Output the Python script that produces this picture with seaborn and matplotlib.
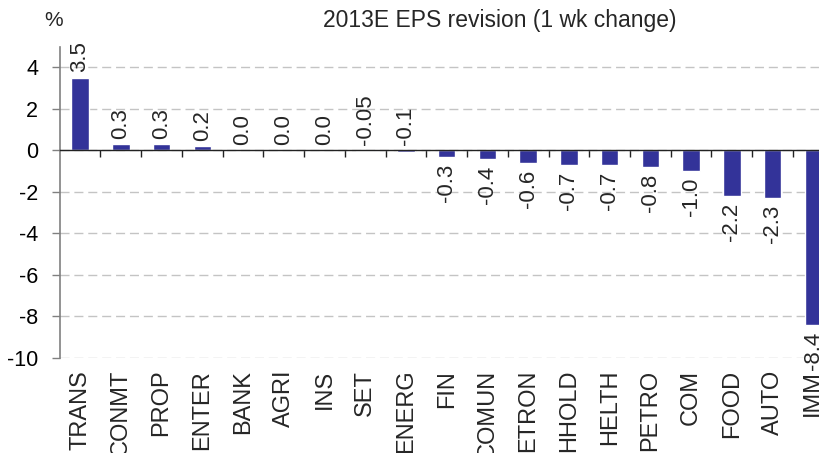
import matplotlib
matplotlib.use("Agg")
import matplotlib.pyplot as plt
import seaborn as sns
import pandas as pd
import numpy as np

categories = ["TRANS", "CONMT", "PROP", "ENTER", "BANK", "AGRI", "INS", "SET", "ENERG",
              "FIN", "COMUN", "ETRON", "HHOLD", "HELTH", "PETRO", "COM", "FOOD", "AUTO", "IMM"]
values = [3.5, 0.3, 0.3, 0.2, 0.0, 0.0, 0.0, -0.05, -0.1,
          -0.3, -0.4, -0.6, -0.7, -0.7, -0.8, -1.0, -2.2, -2.3, -8.4]
value_labels = ["3.5", "0.3", "0.3", "0.2", "0.0", "0.0", "0.0", "-0.05", "-0.1",
                "-0.3", "-0.4", "-0.6", "-0.7", "-0.7", "-0.8", "-1.0", "-2.2", "-2.3", "-8.4"]
y_ticks = [-10, -8, -6, -4, -2, 0, 2, 4]
title = "2013E EPS revision (1 wk change)"
unit = "%"

sns.set_theme(style="white")
plt.rcParams["font.family"] = ["Liberation Sans", "DejaVu Sans"]
plt.rcParams["axes.unicode_minus"] = False

df = pd.DataFrame({"cat": categories, "val": values})

fig = plt.figure(figsize=(8.2, 4.53), dpi=100)
ax = fig.add_axes([59.7 / 820, 1 - 358 / 453, 774 / 820, (358 - 46.5) / 453])

sns.barplot(data=df, x="cat", y="val", color="#333399", saturation=1, width=0.43, ax=ax)

ax.set_xlim(-0.5, len(categories) - 0.5)
ax.set_ylim(-10, 5)
ax.set_xlabel("")
ax.set_ylabel("")

# grid
ax.set_yticks(y_ticks)
ax.yaxis.grid(True, color="#c4c4c4", linestyle=(0, (6.5, 3.5)), linewidth=1)
ax.xaxis.grid(False)
ax.set_axisbelow(True)

for s in ["top", "right"]:
    ax.spines[s].set_visible(False)
ax.spines["left"].set_color("#808080")
ax.spines["left"].set_linewidth(1.2)
ax.spines["bottom"].set_position(("data", 0))
ax.spines["bottom"].set_color("#222222")
ax.spines["bottom"].set_linewidth(1.0)

ax.tick_params(axis="y", which="major", direction="out", length=5.5, width=1, color="#808080",
               labelsize=15.5, labelcolor="black", pad=10, left=True)
ax.set_xticks(range(len(categories)))
ax.set_xticklabels(categories, rotation=90, va="top", ha="center")
ax.tick_params(axis="x", which="major", length=0, labelsize=17, pad=158, bottom=True)
ax.set_xticks(np.arange(0.5, len(categories) - 0.5, 1.0), minor=True)
ax.tick_params(axis="x", which="minor", direction="out", length=5, width=1, color="#222222", bottom=True)

# value labels
for i, (v, lab) in enumerate(zip(values, value_labels)):
    if v > -0.2:
        ax.annotate(lab, xy=(i, max(v, 0)), xytext=(0, 4), textcoords="offset points",
                    rotation=90, ha="center", va="bottom", fontsize=16)
    else:
        ax.annotate(lab, xy=(i, v), xytext=(0, -5), textcoords="offset points",
                    rotation=90, ha="center", va="top", fontsize=16)

fig.text(54 / 820, 1 - 21 / 453, unit, ha="center", va="center", fontsize=15)
fig.text(500 / 820, 1 - 21 / 453, title, ha="center", va="center", fontsize=16.5)

fig.savefig("out.png", dpi=100)
